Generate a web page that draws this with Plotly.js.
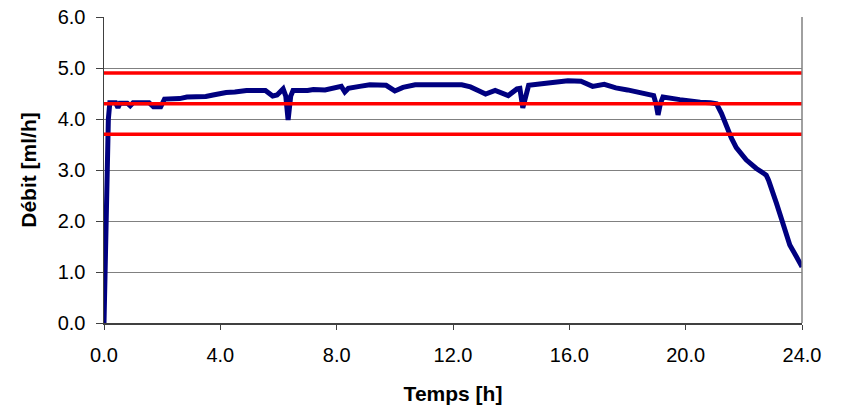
<!DOCTYPE html>
<html>
<head>
<meta charset="utf-8">
<script src="https://cdn.plot.ly/plotly-3.0.1.min.js"></script>
<style>html,body{margin:0;padding:0;background:#fff;}#chart{width:844px;height:411px;}</style>
</head>
<body>
<div id="chart"></div>
<script>
// Time (h)
const temps = [0, 0.03, 0.06, 0.09, 0.12, 0.15, 0.2, 0.4, 0.48, 0.55, 0.8, 0.9, 1.0, 1.55, 1.7, 1.95, 2.08, 2.6, 2.85, 3.5, 3.75, 4.0, 4.2, 4.5, 4.9, 5.55, 5.8, 5.95, 6.16, 6.25, 6.33, 6.42, 6.5, 7.0, 7.2, 7.6, 7.93, 8.16, 8.28, 8.4, 8.79, 9.14, 9.7, 10.0, 10.28, 10.7, 12.3, 12.6, 12.9, 13.12, 13.45, 13.9, 14.2, 14.3, 14.4, 14.5, 14.6, 15.05, 15.5, 15.95, 16.4, 16.8, 17.2, 17.6, 18.0, 18.3, 18.65, 18.9, 18.98, 19.05, 19.13, 19.22, 19.8, 20.0, 20.5, 20.85, 21.06, 21.23, 21.4, 21.57, 21.74, 21.9, 22.08, 22.43, 22.77, 22.85, 22.95, 23.12, 23.29, 23.47, 23.58, 23.81, 24.0];
// Flow rate (ml/h)
const debit = [0.0, 1.0, 2.0, 2.8, 3.5, 4.0, 4.32, 4.32, 4.22, 4.31, 4.31, 4.26, 4.32, 4.32, 4.24, 4.24, 4.39, 4.40, 4.43, 4.44, 4.47, 4.50, 4.52, 4.53, 4.56, 4.56, 4.45, 4.47, 4.59, 4.45, 3.98, 4.45, 4.56, 4.56, 4.58, 4.57, 4.62, 4.64, 4.53, 4.60, 4.64, 4.67, 4.66, 4.55, 4.62, 4.67, 4.67, 4.63, 4.55, 4.49, 4.56, 4.46, 4.59, 4.60, 4.22, 4.40, 4.66, 4.69, 4.71, 4.75, 4.74, 4.64, 4.68, 4.61, 4.57, 4.54, 4.50, 4.46, 4.30, 4.08, 4.30, 4.43, 4.38, 4.36, 4.33, 4.32, 4.30, 4.11, 3.86, 3.63, 3.44, 3.33, 3.20, 3.03, 2.90, 2.80, 2.65, 2.35, 2.05, 1.74, 1.53, 1.30, 1.10];
// Reference limit lines (ml/h)
const limitX = [0, 24];
const limiteHaute = 4.9;
const consigne = 4.3;
const limiteBasse = 3.7;
const xTicks = [0, 4, 8, 12, 16, 20, 24];
const yTicks = [0, 1, 2, 3, 4, 5, 6];

const red = {color: '#FF0000', width: 3.5};
const traces = [
  {x: temps, y: debit, mode: 'lines', line: {color: '#000080', width: 5}, hoverinfo: 'x+y'},
  {x: limitX, y: [limiteHaute, limiteHaute], mode: 'lines', line: red},
  {x: limitX, y: [consigne, consigne], mode: 'lines', line: red},
  {x: limitX, y: [limiteBasse, limiteBasse], mode: 'lines', line: red}
];

const fontFam = 'Liberation Sans, Arial, sans-serif';
const layout = {
  width: 844, height: 411,
  margin: {l: 104, r: 42, t: 17, b: 88, pad: 0},
  paper_bgcolor: '#ffffff', plot_bgcolor: '#ffffff',
  showlegend: false,
  font: {family: fontFam, color: '#000000'},
  xaxis: {
    range: [0, 24], tickvals: xTicks, tickformat: '.1f',
    showgrid: false, zeroline: false,
    showline: true, linecolor: '#404040', linewidth: 1.5,
    ticks: 'outside', ticklen: 5, tickcolor: '#404040', tickwidth: 1,
    ticklabelstandoff: 8,
    tickfont: {size: 20, family: fontFam, color: '#000'},
    title: {text: '<b>Temps [h]</b>', font: {size: 21, family: fontFam, color: '#000'}, standoff: 22}
  },
  yaxis: {
    range: [0, 6], tickvals: yTicks, tickformat: '.1f',
    showgrid: true, gridcolor: '#808080', gridwidth: 1, zeroline: false,
    showline: true, linecolor: '#404040', linewidth: 1.5,
    ticks: 'outside', ticklen: 7, tickcolor: '#404040', tickwidth: 1,
    ticklabelstandoff: 6,
    tickfont: {size: 20, family: fontFam, color: '#000'},
    title: {text: '<b>Débit [ml/h]</b>', font: {size: 21, family: fontFam, color: '#000'}, standoff: 15}
  },
  shapes: [
    {type: 'line', xref: 'paper', yref: 'paper', x0: 1, x1: 1, y0: 0, y1: 1, line: {color: '#808080', width: 1.5}}
  ]
};

Plotly.newPlot('chart', traces, layout, {displayModeBar: false, staticPlot: true});
</script>
</body>
</html>
